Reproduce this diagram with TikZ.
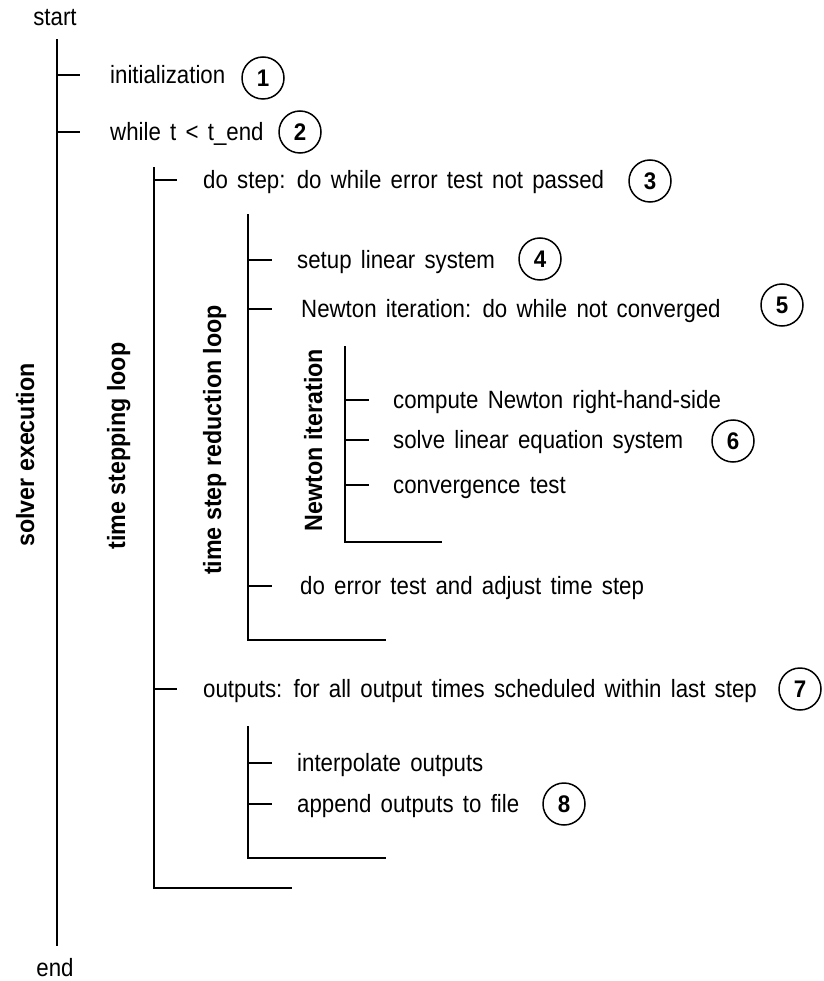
\documentclass[tikz,border=0pt]{standalone}
\usepackage{fontspec}
% Arial-metric sans, set a little narrow as in the slide this diagram comes from
\setmainfont{Liberation Sans}[FakeStretch=0.89, WordSpace=1.5]
\newfontfamily\headfont{Liberation Sans}[FakeStretch=0.93]
\begin{document}
\begin{tikzpicture}[x=1pt,y=-1pt,
  spine/.style={line width=1.8pt, line cap=rect},
  tick/.style={line width=1.6pt},
  item/.style={anchor=base west, inner sep=0pt, font=\fontsize{25}{28}\selectfont},
  term/.style={anchor=base, inner sep=0pt, font=\fontsize{25}{28}\selectfont},
  looplabel/.style={rotate=90, anchor=base, inner sep=0pt,
    font=\headfont\bfseries\fontsize{25}{28}\selectfont},
  num/.style={circle, draw, line width=1.5pt, minimum size=42pt, inner sep=0pt,
    font=\headfont\bfseries\fontsize{24}{28}\selectfont},
]
\useasboundingbox (0,0) rectangle (823,981);

% ---------- solver execution (outermost level) ----------
\node[term] (start) at (55,26) {start};
\node[term] (end)   at (55,976) {end};
\coordinate (s1top) at (57,40);
\coordinate (s1bot) at (57,945);
\draw[spine] (s1top) -- (s1bot);
\node[looplabel] (lsolver) at (34,455) {solver execution};

\coordinate (t1) at (57,75);
\draw[tick] (t1) -- ++(23,0);
\node[item] (init) at (110,83.5) {initialization};
\node[num] (n1) at (263,78) {1};

\coordinate (t2) at (57,132);
\draw[tick] (t2) -- ++(23,0);
\node[item] (while) at (110,140.5) {while t < t\_end};
\node[num] (n2) at (300,132) {2};

% ---------- time stepping loop ----------
\coordinate (s2top) at (154,168);
\coordinate (s2bot) at (154,888);
\coordinate (s2end) at (291,888);
\draw[spine] (s2top) -- (s2bot) -- (s2end);
\node[looplabel] (lstep) at (125,446) {time stepping loop};

\coordinate (t3) at (154,180);
\draw[tick] (t3) -- ++(23,0);
\node[item] (dostep) at (203,188.5) {do step: do while error test not passed};
\node[num] (n3) at (650,181) {3};

% ---------- time step reduction loop ----------
\coordinate (s3top) at (248,215);
\coordinate (s3bot) at (248,640);
\coordinate (s3end) at (385,640);
\draw[spine] (s3top) -- (s3bot) -- (s3end);
\node[looplabel] (lred) at (221,440) {time step reduction loop};

\coordinate (t4) at (248,260);
\draw[tick] (t4) -- ++(24,0);
\node[item] (setup) at (297,268.5) {setup linear system};
\node[num] (n4) at (540,259) {4};

\coordinate (t5) at (248,309);
\draw[tick] (t5) -- ++(24,0);
\node[item] (newton) at (301,317.5) {Newton iteration: do while not converged};
\node[num] (n5) at (782,305) {5};

% ---------- Newton iteration ----------
\coordinate (s4top) at (345,347);
\coordinate (s4bot) at (345,542);
\coordinate (s4end) at (441,542);
\draw[spine] (s4top) -- (s4bot) -- (s4end);
\node[looplabel] (lnewton) at (322,440) {Newton iteration};

\coordinate (t6) at (345,400);
\draw[tick] (t6) -- ++(24,0);
\node[item] (rhs) at (393,408.5) {compute Newton right-hand-side};

\coordinate (t7) at (345,440);
\draw[tick] (t7) -- ++(24,0);
\node[item] (solve) at (393,448.5) {solve linear equation system};
\node[num] (n6) at (733,441) {6};

\coordinate (t8) at (345,485);
\draw[tick] (t8) -- ++(24,0);
\node[item] (conv) at (393,493.5) {convergence test};

% ---------- back in the reduction loop ----------
\coordinate (t9) at (248,586);
\draw[tick] (t9) -- ++(24,0);
\node[item] (errtest) at (300,594.5) {do error test and adjust time step};

% ---------- outputs ----------
\coordinate (t10) at (154,689);
\draw[tick] (t10) -- ++(23,0);
\node[item] (outputs) at (203,697.5) {outputs: for all output times scheduled within last step};
\node[num] (n7) at (800,689) {7};

\coordinate (s5top) at (248,727);
\coordinate (s5bot) at (248,858);
\coordinate (s5end) at (385,858);
\draw[spine] (s5top) -- (s5bot) -- (s5end);

\coordinate (t11) at (248,763);
\draw[tick] (t11) -- ++(24,0);
\node[item] (interp) at (297,771.5) {interpolate outputs};

\coordinate (t12) at (248,804);
\draw[tick] (t12) -- ++(24,0);
\node[item] (append) at (297,812.5) {append outputs to file};
\node[num] (n8) at (564,804) {8};
\end{tikzpicture}
\end{document}
